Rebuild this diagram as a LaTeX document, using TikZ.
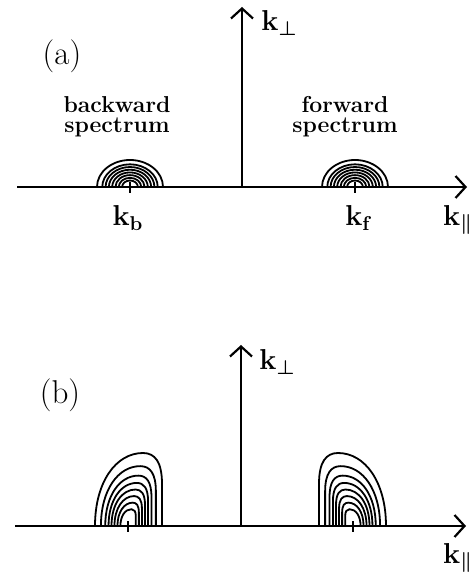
\documentclass[tikz,border=0pt]{standalone}
\usetikzlibrary{arrows.meta,positioning}

\begin{document}
\begin{tikzpicture}[
    x=0.5pt, y=0.5pt,
    axis/.style={line width=1.1pt, -{Straight Barb[length=5pt, width=11pt]}},
    contour/.style={line width=0.9pt},
    tickmark/.style={line width=0.9pt},
    klabel/.style={font=\fontsize{14}{16}\selectfont\boldmath, inner sep=0pt},
    panel/.style={font=\fontsize{16.5}{18}\selectfont, inner sep=0pt},
    spec/.style={font=\fontsize{11.5}{10}\selectfont\bfseries, align=center, inner sep=0pt}
]
\useasboundingbox (0,0) rectangle (473,578);

% (a) forward / backward spectrum
\coordinate (aw) at (17,391);
\coordinate (ae) at (467,391);
\coordinate (ao) at (242,391);
\coordinate (an) at (242,571);
\coordinate (kb) at (130,391);
\coordinate (kf) at (355,391);
\draw[axis] (aw) -- (ae);
\draw[axis] (ao) -- (an);
\node[klabel, anchor=west] (aperp) at (261,555) {$\mathbf{k}_\perp$};
\node[panel] (alab) at (62,522) {(a)};
\node[spec] (back) at (117,461) {backward\\spectrum};
\node[spec] (forw) at (345,461) {forward\\spectrum};
\foreach \s in {1,.84,.74,.64,.54,.44,.34,.24} {
  \draw[contour] (kb) ++(-33*\s,0) arc[start angle=180, end angle=0, x radius=33*\s, y radius=27*\s];
  \draw[contour] (kf) ++(-33*\s,0) arc[start angle=180, end angle=0, x radius=33*\s, y radius=27*\s];
}
\draw[tickmark] (kb) ++(0,-6) -- ++(0,11);
\draw[tickmark] (kf) ++(0,-6) -- ++(0,11);
\node[klabel] (kblab) at (128,360) {$\mathbf{k}_\mathbf{b}$};
\node[klabel] (kflab) at (359,360) {$\mathbf{k}_\mathbf{f}$};
\node[klabel] (apar) at (458,358) {$\mathbf{k}_\parallel$};

% (b)
\coordinate (bw) at (15,52);
\coordinate (be) at (466,52);
\coordinate (bo) at (241,52);
\coordinate (bn) at (241,233);
\coordinate (kb2) at (128,52);
\coordinate (kf2) at (353,52);
\draw[axis] (bw) -- (be);
\draw[axis] (bo) -- (bn);
\node[klabel, anchor=west] (bperp) at (259,216) {$\mathbf{k}_\perp$};
\node[panel] (blab) at (60,183) {(b)};
\begin{scope}[shift={(kb2)}]
  \foreach \s in {1,.82,.69,.59,.5,.41,.32,.23}
    \draw[contour] (-33*\s,0) .. controls (-33*\s,44*\s) and (-12*\s,73*\s) .. (15*\s,73*\s)
      .. controls (27*\s,73*\s) and (34*\s,64*\s) .. (34*\s,42*\s) -- (34*\s,0);
\end{scope}
\begin{scope}[shift={(kf2)}, xscale=-1]
  \foreach \s in {1,.82,.69,.59,.5,.41,.32,.23}
    \draw[contour] (-33*\s,0) .. controls (-33*\s,44*\s) and (-12*\s,73*\s) .. (15*\s,73*\s)
      .. controls (27*\s,73*\s) and (34*\s,64*\s) .. (34*\s,42*\s) -- (34*\s,0);
\end{scope}
\draw[tickmark] (kb2) ++(0,-6) -- ++(0,11);
\draw[tickmark] (kf2) ++(0,-6) -- ++(0,11);
\node[klabel] (bpar) at (458,20) {$\mathbf{k}_\parallel$};
\end{tikzpicture}
\end{document}
